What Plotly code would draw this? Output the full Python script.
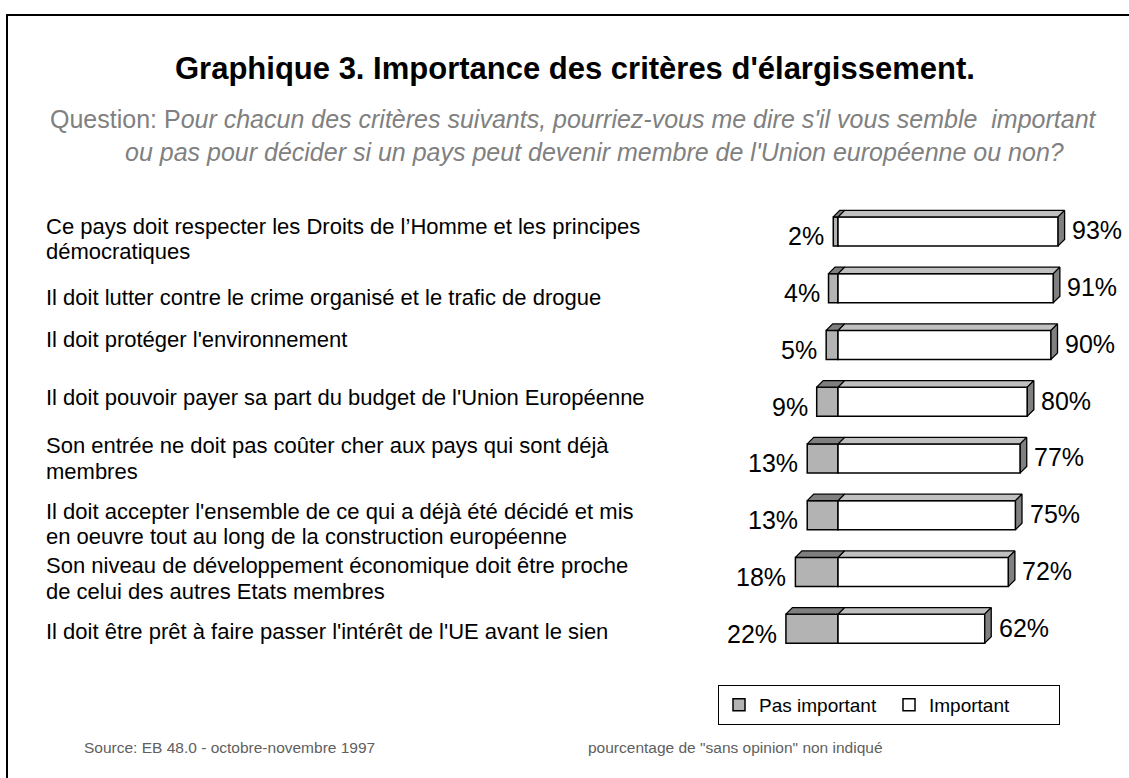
import plotly.graph_objects as go

# ---------------- data ----------------
criteres = [
    ["Ce pays doit respecter les Droits de l’Homme et les principes", "démocratiques"],
    ["Il doit lutter contre le crime organisé et le trafic de drogue"],
    ["Il doit protéger l'environnement"],
    ["Il doit pouvoir payer sa part du budget de l'Union Européenne"],
    ["Son entrée ne doit pas coûter cher aux pays qui sont déjà", "membres"],
    ["Il doit accepter l'ensemble de ce qui a déjà été décidé et mis",
     "en oeuvre tout au long de la construction européenne"],
    ["Son niveau de développement économique doit être proche", "de celui des autres Etats membres"],
    ["Il doit être prêt à faire passer l'intérêt de l'UE avant le sien"],
]
pas_important = [2, 4, 5, 9, 13, 13, 18, 22]
important = [93, 91, 90, 80, 77, 75, 72, 62]
series_names = ["Pas important", "Important"]

title_text = "Graphique 3. Importance des critères d'élargissement."
subtitle_line1 = "Question: P<i>our chacun des critères suivants, pourriez-vous me dire s'il vous semble  important</i>"
subtitle_line2 = "<i>ou pas pour décider si un pays peut devenir membre de l'Union européenne ou non?</i>"
source_text = "Source: EB 48.0 - octobre-novembre 1997"
note_text = "pourcentage de \"sans opinion\" non indiqué"

# ---------------- layout geometry / styles ----------------
W, H = 1129, 778
ML, MR, MT, MB = 696, 7, 203, 121
X_RANGE = [-60, 120]
n = len(criteres)
rows = list(range(n))
plot_w = W - ML - MR
plot_h = H - MT - MB
ppx = plot_w / (X_RANGE[1] - X_RANGE[0])
ppy = plot_h / n
BAR_W = 29 / ppy
DEPTH = 6.5
dx = DEPTH / ppx
dy = DEPTH / ppy

FONT = "Liberation Sans, Arial, sans-serif"
C_FRONT = "#b3b3b3"
C_TOP_DARK = "#7f7f7f"
C_TOP_LIGHT = "#c0c0c0"
C_SIDE = "#808080"
label_center_shift = [-7.5, -9, 5, 4, 0, -9, -6.5, -3]   # px (positive = up)
LINE_GAP = 25.5


def pxx(px):
    return (px - ML) / plot_w


def pxy(py):
    return (H - MB - py) / plot_h


fig = go.Figure()

# front faces
fig.add_trace(go.Bar(
    name=series_names[0], y=rows, x=pas_important, base=[-v for v in pas_important],
    orientation="h", width=BAR_W,
    marker=dict(color=C_FRONT, line=dict(color="black", width=1.5)),
    customdata=pas_important, hovertemplate="%{customdata}%<extra>Pas important</extra>",
))
fig.add_trace(go.Bar(
    name=series_names[1], y=rows, x=important, base=[0] * n,
    orientation="h", width=BAR_W,
    marker=dict(color="white", line=dict(color="black", width=1.5)),
    hovertemplate="%{x}%<extra>Important</extra>",
))


def face_trace(polys, color):
    xs, ys = [], []
    for poly in polys:
        for (a, b) in poly:
            xs.append(a)
            ys.append(b)
        xs.append(poly[0][0])
        ys.append(poly[0][1])
        xs.append(None)
        ys.append(None)
    return go.Scatter(x=xs, y=ys, mode="lines", fill="toself", fillcolor=color,
                      line=dict(color="black", width=1.3), showlegend=False,
                      hoverinfo="skip")


light_tops, dark_tops, sides = [], [], []
for i, (p, v) in enumerate(zip(pas_important, important)):
    yt = i - BAR_W / 2
    yb = i + BAR_W / 2
    light_tops.append([(0, yt), (dx, yt - dy), (v + dx, yt - dy), (v, yt)])
    dark_tops.append([(-p, yt), (-p + dx, yt - dy), (dx, yt - dy), (0, yt)])
    sides.append([(v, yt), (v + dx, yt - dy), (v + dx, yb - dy), (v, yb)])

fig.add_trace(face_trace(light_tops, C_TOP_LIGHT))
fig.add_trace(face_trace(dark_tops, C_TOP_DARK))
fig.add_trace(face_trace(sides, C_SIDE))

annotations = []
# value labels
for i, (p, v) in enumerate(zip(pas_important, important)):
    annotations.append(dict(x=-p, y=i, xref="x", yref="y", text=f"{p}%", showarrow=False,
                            xanchor="right", yanchor="middle", xshift=-7, yshift=-5,
                            font=dict(size=25, color="black", family=FONT)))
    annotations.append(dict(x=v, y=i, xref="x", yref="y", text=f"{v}%", showarrow=False,
                            xanchor="left", yanchor="middle", xshift=12, yshift=1,
                            font=dict(size=25, color="black", family=FONT)))
# category labels (one annotation per line, to control line spacing)
for i, lines in enumerate(criteres):
    k = len(lines)
    for j, line in enumerate(lines):
        off = ((k - 1) / 2 - j) * LINE_GAP
        annotations.append(dict(x=pxx(44), y=i, xref="paper", yref="y", text=line, showarrow=False,
                                xanchor="left", yanchor="middle", align="left",
                                yshift=label_center_shift[i] + off,
                                font=dict(size=22, color="black", family=FONT)))
# title / subtitle / footer
annotations.append(dict(x=pxx(575), y=pxy(68), xref="paper", yref="paper", text=f"<b>{title_text}</b>",
                        showarrow=False, xanchor="center", yanchor="middle",
                        font=dict(size=31, color="black", family=FONT)))
annotations.append(dict(x=pxx(573), y=pxy(119), xref="paper", yref="paper", text=subtitle_line1,
                        showarrow=False, xanchor="center", yanchor="middle",
                        font=dict(size=25, color="#808080", family=FONT)))
annotations.append(dict(x=pxx(594), y=pxy(152), xref="paper", yref="paper", text=subtitle_line2,
                        showarrow=False, xanchor="center", yanchor="middle",
                        font=dict(size=25, color="#808080", family=FONT)))
annotations.append(dict(x=pxx(82), y=pxy(747), xref="paper", yref="paper", text=source_text,
                        showarrow=False, xanchor="left", yanchor="middle",
                        font=dict(size=15.5, color="#606060", family=FONT)))
annotations.append(dict(x=pxx(586), y=pxy(747), xref="paper", yref="paper", text=note_text,
                        showarrow=False, xanchor="left", yanchor="middle",
                        font=dict(size=15.5, color="#606060", family=FONT)))

fig.update_layout(
    width=W, height=H,
    margin=dict(l=ML, r=MR, t=MT, b=MB, autoexpand=False),
    paper_bgcolor="white", plot_bgcolor="white",
    barmode="overlay",
    xaxis=dict(range=X_RANGE, visible=False, fixedrange=True),
    yaxis=dict(range=[n - 0.5, -0.5], visible=False, fixedrange=True),
    showlegend=True,
    legend=dict(orientation="h", x=pxx(718), y=pxy(685), xanchor="left", yanchor="top",
                bgcolor="white", bordercolor="black", borderwidth=1,
                font=dict(size=19, color="black", family=FONT),
                itemwidth=30, traceorder="normal", entrywidth=125, entrywidthmode="pixels"),
    annotations=annotations,
    shapes=[dict(type="rect", xref="paper", yref="paper",
                 x0=pxx(7), x1=pxx(1160), y0=pxy(15), y1=pxy(800),
                 line=dict(color="black", width=2), fillcolor="rgba(0,0,0,0)", layer="below")],
    font=dict(family=FONT),
)

fig.write_html("out.html", config={"displayModeBar": False},
               post_script="document.body.style.margin='0';document.body.style.overflow='hidden';")
